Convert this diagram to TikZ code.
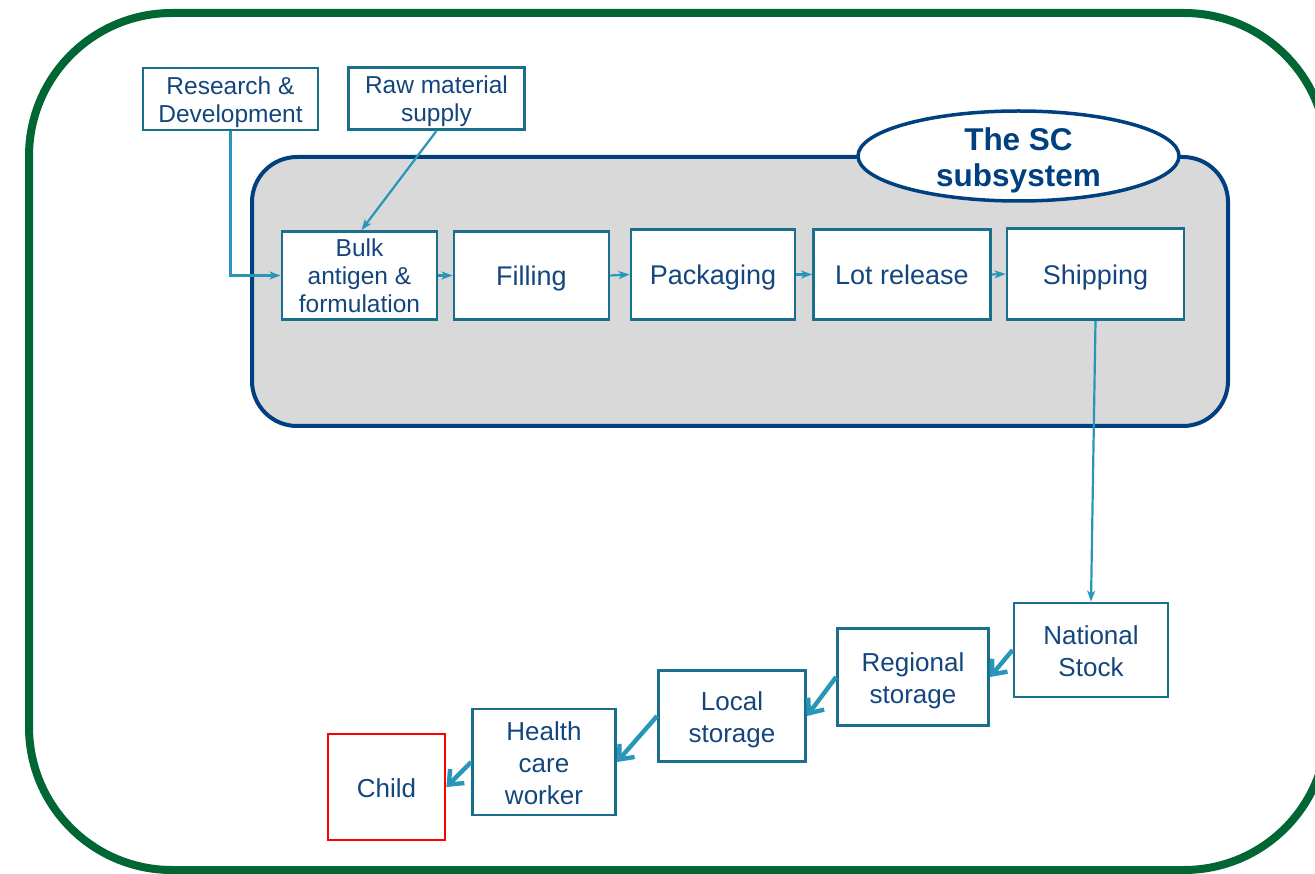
\documentclass[tikz,border=0pt]{standalone}
\usepackage{fontspec}
\setmainfont{Liberation Sans}
\usetikzlibrary{arrows.meta,shapes.geometric}
\definecolor{frame}{RGB}{0,102,51}
\definecolor{subsys}{RGB}{0,64,128}
\definecolor{boxline}{RGB}{26,112,140}
\definecolor{flow}{RGB}{40,150,185}
\definecolor{txt}{RGB}{20,70,125}
\definecolor{panel}{RGB}{217,217,217}
\tikzset{
  box/.style={draw=boxline, line width=2.8pt, fill=white, rectangle, inner sep=0pt},
  % single-line stage: fixed text height/depth keeps one common baseline
  stage/.style={box, text=txt, font=\fontsize{27}{30}\selectfont,
    text height=22pt, text depth=1pt},
  % multi-line captions, set over the centre of their box
  boxtext/.style={text=txt, align=center, inner sep=0pt, font=\fontsize{24.5}{28}\selectfont},
  boxtextbig/.style={boxtext, font=\fontsize{26}{32}\selectfont},
  thin/.style={draw=flow, line width=2.2pt, -{Stealth[length=11pt,width=8pt,inset=3pt]}},
  thick/.style={draw=flow, line width=4.4pt, -{Straight Barb[length=12pt,width=20pt]}}
}
\begin{document}
\begin{tikzpicture}[x=1pt,y=-1pt]
\useasboundingbox (0,0) rectangle (1315,874);
\clip (0,0) rectangle (1315,874);
\fill[white] (0,0) rectangle (1315,874);
% outer frame
\draw[frame, line width=8pt, rounded corners=143pt] (29,13) rectangle (1327,870);
% supply-chain panel
\draw[subsys, fill=panel, line width=4pt, rounded corners=45pt] (252,157) rectangle (1228,426);
\node[ellipse, draw=subsys, line width=3.5pt, line join=round, fill=white,
  minimum width=321pt, minimum height=90pt, inner sep=0pt] (sc) at (1018.5,156) {};
\node[text=subsys, align=center, inner sep=0pt, font=\fontsize{31.5}{36}\selectfont\bfseries]
  (sclabel) at ([yshift=-4pt]sc.center) {The SC\\subsystem};
% inputs
\node[box, minimum width=175pt, minimum height=62pt] (rd) at (230.5,99) {};
\node[boxtext] (rdlabel) at ([yshift=-3pt]rd.center) {Research \&\\Development};
\node[box, minimum width=176pt, minimum height=62pt] (raw) at (436.5,98.5) {};
\node[boxtext] (rawlabel) at ([yshift=-3pt]raw.center) {Raw material\\supply};
% production stages
\node[box, minimum width=155pt, minimum height=88pt] (bulk) at (359.5,275.5) {};
\node[boxtext] (bulklabel) at (bulk.center) {Bulk\\antigen \&\\formulation};
\node[stage, minimum width=155pt, minimum height=88pt] (fill) at (531.5,275.5) {Filling};
\node[stage, minimum width=164pt, minimum height=90pt] (pack) at (713,274.5) {Packaging};
\node[stage, minimum width=177pt, minimum height=90pt] (lot) at (902,274.5) {Lot release};
\node[stage, minimum width=177pt, minimum height=91pt] (ship) at (1095.5,274) {Shipping};
% distribution
\node[box, minimum width=154pt, minimum height=94pt] (nat) at (1091,650) {};
\node[boxtextbig] (natlabel) at ([yshift=-1pt]nat.center) {National\\Stock};
\node[box, minimum width=151pt, minimum height=97pt] (reg) at (913,677) {};
\node[boxtextbig] (reglabel) at ([yshift=-4pt]reg.center) {Regional\\storage};
\node[box, minimum width=147pt, minimum height=91pt] (loc) at (732,716) {};
\node[boxtextbig] (loclabel) at ([yshift=-4pt]loc.center) {Local\\storage};
\node[box, minimum width=143pt, minimum height=106pt] (hcw) at (544,762) {};
\node[boxtextbig] (hcwlabel) at ([yshift=-1pt]hcw.center) {Health\\care\\worker};
\node[box, draw=red, minimum width=117pt, minimum height=106pt] (child) at (386.5,787) {};
\node[boxtextbig] (childlabel) at ([yshift=-1pt]child.center) {Child};
% flows
\draw[thin] (rd.south) |- (bulk.west);
\draw[thin] (raw.south) -- ([xshift=2pt]bulk.north);
\draw[thin] (bulk.east) -- (fill.west);
\draw[thin] (fill.east) -- (pack.west);
\draw[thin] (pack.east) -- (lot.west);
\draw[thin] (lot.east) -- (ship.west);
\draw[thin] (ship.south) -- (nat.north);
\draw[thick] (nat.west) -- (reg.east);
\draw[thick] (reg.west) -- (loc.east);
\draw[thick] (loc.west) -- (hcw.east);
\draw[thick] (hcw.west) -- (child.east);
\end{tikzpicture}
\end{document}
